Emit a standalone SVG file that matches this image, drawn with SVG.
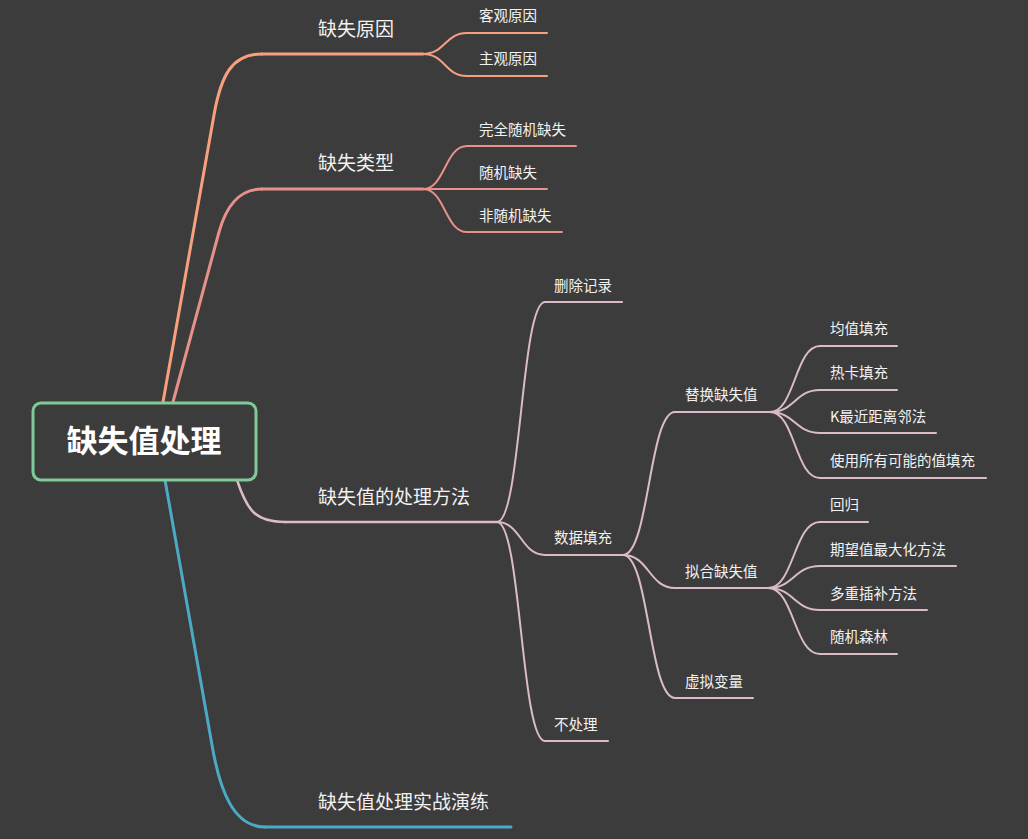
<svg xmlns="http://www.w3.org/2000/svg" width="1028" height="839" viewBox="0 0 1028 839">
<style>
text{font-family:"Noto Sans CJK SC","Liberation Sans",sans-serif;fill:#f2f2f2}
.l1{font-size:19px}
.l2{font-size:14.5px}
.root{font-size:31px;font-weight:bold;fill:#ffffff}
path{fill:none;stroke-linecap:round}
.or{stroke:#f7a07e}
.pk{stroke:#e8918b}
.lp{stroke:#dbbcc6}
.bl{stroke:#4daac4}
.w3{stroke-width:3}
.w25{stroke-width:2.5}
.w2{stroke-width:2}
</style>
<rect width="1028" height="839" fill="#3c3c3c"/>
<g id="connectors">
<path class="or w3" d="M163,402 L214,115 C221,75 232,54 262,54"/>
<path class="pk w3" d="M173,402 L219,232 C226,207 238,189 262,189"/>
<path class="lp w25" d="M237,480 C247,510 255,522 285,522"/>
<path class="bl w3" d="M165,480 L212,745 C220,792 234,827 265,827"/>
<path class="or w2" d="M423,54 C445,54 445,33 467,33"/>
<path class="or w2" d="M423,54 C445,54 445,76 467,76"/>
<path class="pk w2" d="M423,189 C445,189 445,146 467,146"/>
<path class="pk w2" d="M423,189 H467"/>
<path class="pk w2" d="M423,189 C445,189 445,232 467,232"/>
<path class="lp w2" d="M497,522 C521,522 521,302 545,302"/>
<path class="lp w2" d="M497,522 C521,522 521,555 545,555"/>
<path class="lp w2" d="M497,522 C521,522 521,741 545,741"/>
<path class="lp w2" d="M623,555 C649,555 649,412 675,412"/>
<path class="lp w2" d="M623,555 C649,555 649,588 675,588"/>
<path class="lp w2" d="M623,555 C649,555 649,698 675,698"/>
<path class="lp w2" d="M770,412 C795,412 795,346 820,346"/>
<path class="lp w2" d="M770,412 C795,412 795,390 820,390"/>
<path class="lp w2" d="M770,412 C795,412 795,433 820,433"/>
<path class="lp w2" d="M770,412 C795,412 795,478 820,478"/>
<path class="lp w2" d="M768,588 C794,588 794,522 820,522"/>
<path class="lp w2" d="M768,588 C794,588 794,566 820,566"/>
<path class="lp w2" d="M768,588 C794,588 794,610 820,610"/>
<path class="lp w2" d="M768,588 C794,588 794,654 820,654"/>
</g>
<g id="n-root">
<rect x="33" y="403" width="223" height="77" rx="8" fill="#3c3c3c" stroke="#7fca98" stroke-width="3"/>
<text class="root" x="144" y="452" text-anchor="middle">缺失值处理</text>
</g>
<g id="n-reason"><path class="or w3" d="M262,54 H423"/><text class="l1" x="318" y="36">缺失原因</text></g>
<g id="n-type"><path class="pk w3" d="M262,189 H423"/><text class="l1" x="318" y="170">缺失类型</text></g>
<g id="n-method"><path class="lp w25" d="M285,522 H497"/><text class="l1" x="318" y="504">缺失值的处理方法</text></g>
<g id="n-practice"><path class="bl w3" d="M265,827 H511"/><text class="l1" x="318" y="809">缺失值处理实战演练</text></g>
<g id="n-objective"><path class="or w2" d="M467,33 H547"/><text class="l2" x="479" y="21.4">客观原因</text></g>
<g id="n-subjective"><path class="or w2" d="M467,76 H547"/><text class="l2" x="479" y="64.4">主观原因</text></g>
<g id="n-mcar"><path class="pk w2" d="M467,146 H576"/><text class="l2" x="479" y="135.4">完全随机缺失</text></g>
<g id="n-mar"><path class="pk w2" d="M467,189 H547"/><text class="l2" x="479" y="178.4">随机缺失</text></g>
<g id="n-mnar"><path class="pk w2" d="M467,232 H562"/><text class="l2" x="479" y="221.4">非随机缺失</text></g>
<g id="n-delete"><path class="lp w2" d="M545,302 H622"/><text class="l2" x="554" y="291.4">删除记录</text></g>
<g id="n-fill"><path class="lp w2" d="M545,555 H623"/><text class="l2" x="554" y="543.4">数据填充</text></g>
<g id="n-none"><path class="lp w2" d="M545,741 H608"/><text class="l2" x="554" y="730.4">不处理</text></g>
<g id="n-replace"><path class="lp w2" d="M675,412 H770"/><text class="l2" x="685" y="400.4">替换缺失值</text></g>
<g id="n-fit"><path class="lp w2" d="M675,588 H768"/><text class="l2" x="685" y="577.4">拟合缺失值</text></g>
<g id="n-dummy"><path class="lp w2" d="M675,698 H753"/><text class="l2" x="685" y="687.4">虚拟变量</text></g>
<g id="n-mean"><path class="lp w2" d="M820,346 H897"/><text class="l2" x="830" y="334.4">均值填充</text></g>
<g id="n-hotdeck"><path class="lp w2" d="M820,390 H897"/><text class="l2" x="830" y="378.4">热卡填充</text></g>
<g id="n-knn"><path class="lp w2" d="M820,433 H936"/><text class="l2" x="830" y="422.4">K最近距离邻法</text></g>
<g id="n-all"><path class="lp w2" d="M820,478 H986"/><text class="l2" x="830" y="466.4">使用所有可能的值填充</text></g>
<g id="n-regress"><path class="lp w2" d="M820,522 H868"/><text class="l2" x="830" y="510.4">回归</text></g>
<g id="n-em"><path class="lp w2" d="M820,566 H956"/><text class="l2" x="830" y="555.4">期望值最大化方法</text></g>
<g id="n-mi"><path class="lp w2" d="M820,610 H927"/><text class="l2" x="830" y="599.4">多重插补方法</text></g>
<g id="n-rf"><path class="lp w2" d="M820,654 H897"/><text class="l2" x="830" y="642.4">随机森林</text></g>
</svg>
